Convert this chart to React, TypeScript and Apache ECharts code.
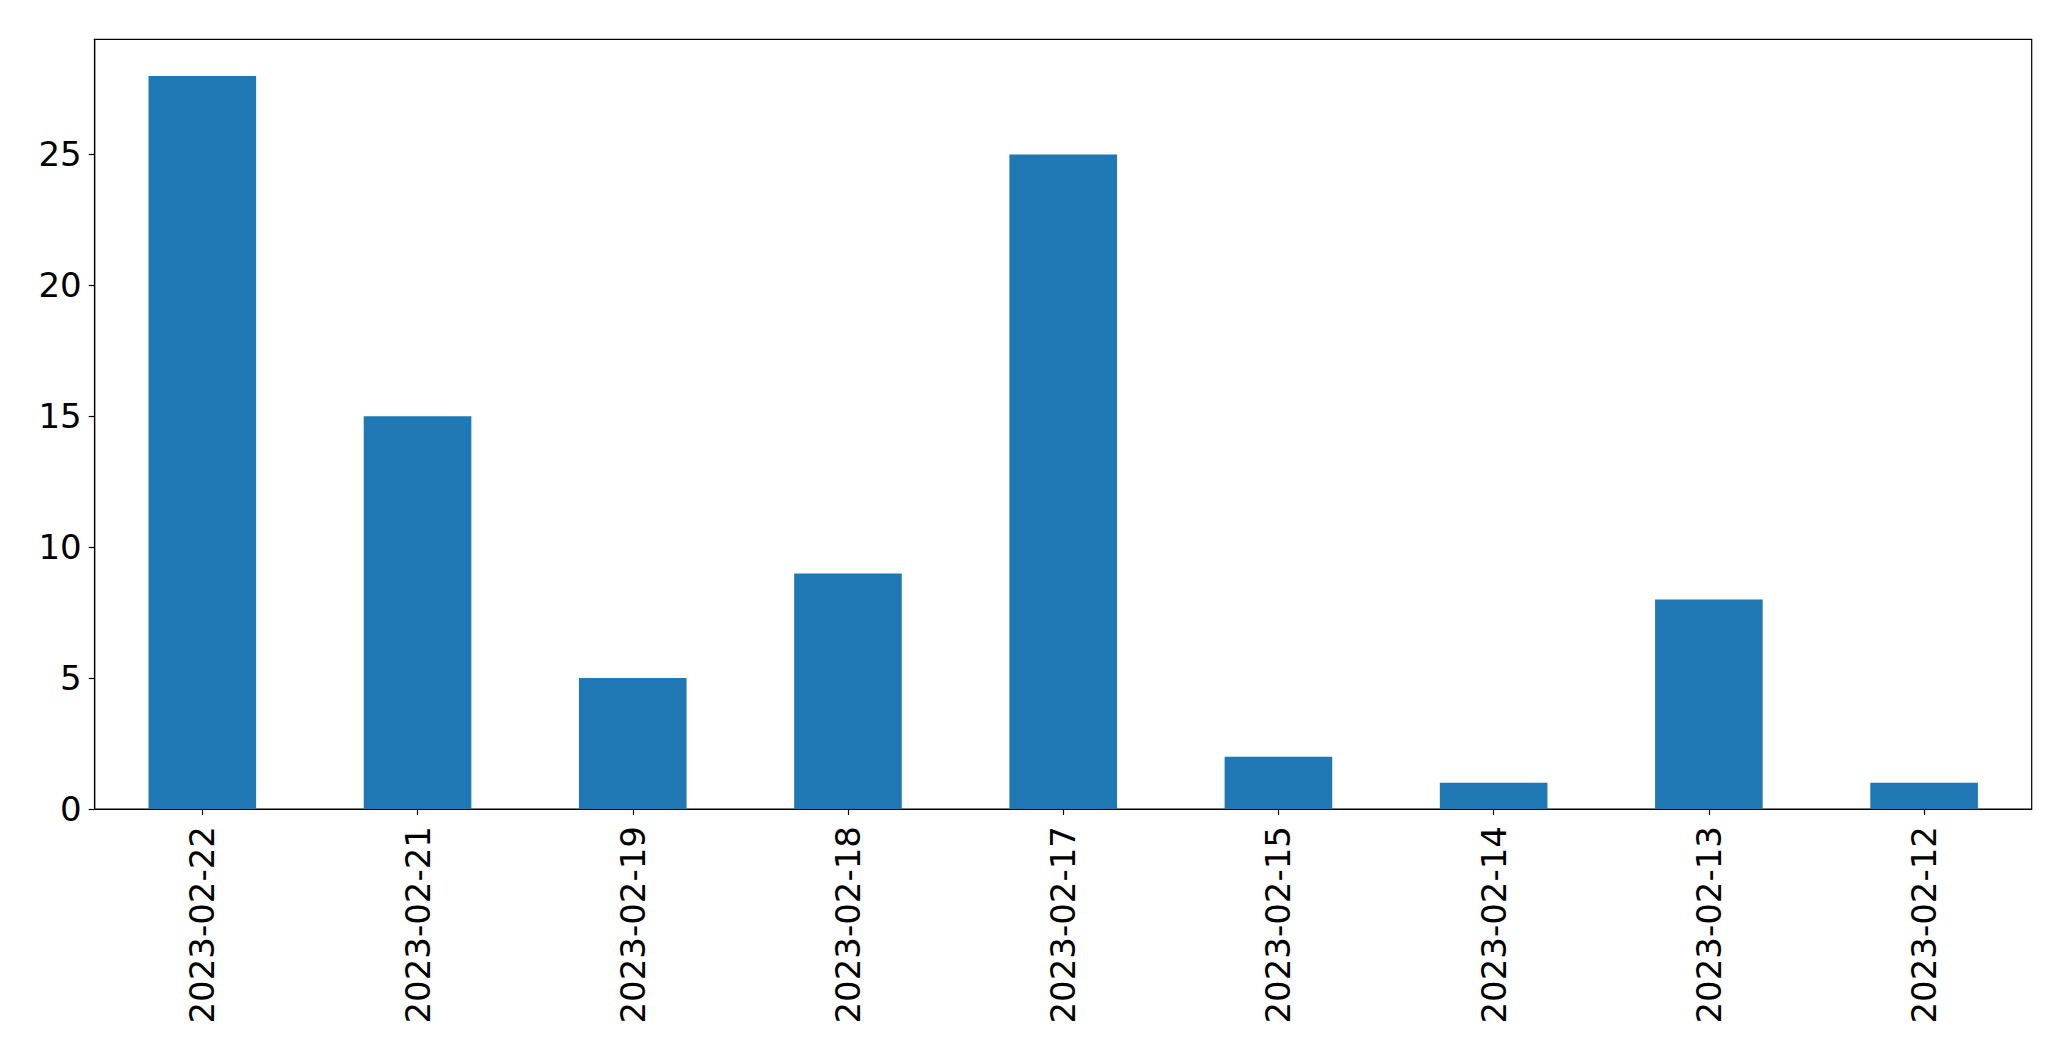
import React, { useEffect, useRef } from "react";
import * as echarts from "echarts";

const categories = [
  "2023-02-22",
  "2023-02-21",
  "2023-02-19",
  "2023-02-18",
  "2023-02-17",
  "2023-02-15",
  "2023-02-14",
  "2023-02-13",
  "2023-02-12",
];
const counts = [28, 15, 5, 9, 25, 2, 1, 8, 1];
const yTicks = [0, 5, 10, 15, 20, 25];

export default function App() {
  const ref = useRef<HTMLDivElement>(null);
  useEffect(() => {
    document.body.style.margin = "0";
    const chart = echarts.init(ref.current!, null, { renderer: "svg" });
    const font = "DejaVu Sans";
    chart.setOption({
      animation: false,
      backgroundColor: "#ffffff",
      grid: {
        left: 94.7,
        right: 39.3,
        top: 39.3,
        bottom: 252,
        show: true,
        borderColor: "#000000",
        borderWidth: 1.2,
        backgroundColor: "transparent",
      },
      xAxis: {
        type: "category",
        data: categories,
        axisLine: { show: true, lineStyle: { color: "#000", width: 1.2 } },
        axisTick: {
          show: true,
          alignWithLabel: true,
          length: 6,
          lineStyle: { color: "#000", width: 1.2 },
        },
        axisLabel: {
          rotate: 90,
          margin: 17,
          fontSize: 34,
          fontFamily: font,
          color: "#000",
          interval: 0,
        },
        splitLine: { show: false },
      },
      yAxis: {
        type: "value",
        min: 0,
        max: 29.4,
        interval: 5,
        axisLine: { show: true, lineStyle: { color: "#000", width: 1.2 } },
        axisTick: {
          show: true,
          length: 6,
          customValues: yTicks,
          lineStyle: { color: "#000", width: 1.2 },
        },
        axisLabel: {
          margin: 13,
          fontSize: 34,
          fontFamily: font,
          color: "#000",
          customValues: yTicks,
        },
        splitLine: { show: false },
      },
      series: [
        {
          type: "bar",
          data: counts,
          barWidth: "50%",
          itemStyle: { color: "#1f77b4" },
        },
      ],
    });
    return () => chart.dispose();
  }, []);
  return (
    <div
      ref={ref}
      style={{ position: "absolute", left: 0, top: 0, width: 2071, height: 1061 }}
    />
  );
}
